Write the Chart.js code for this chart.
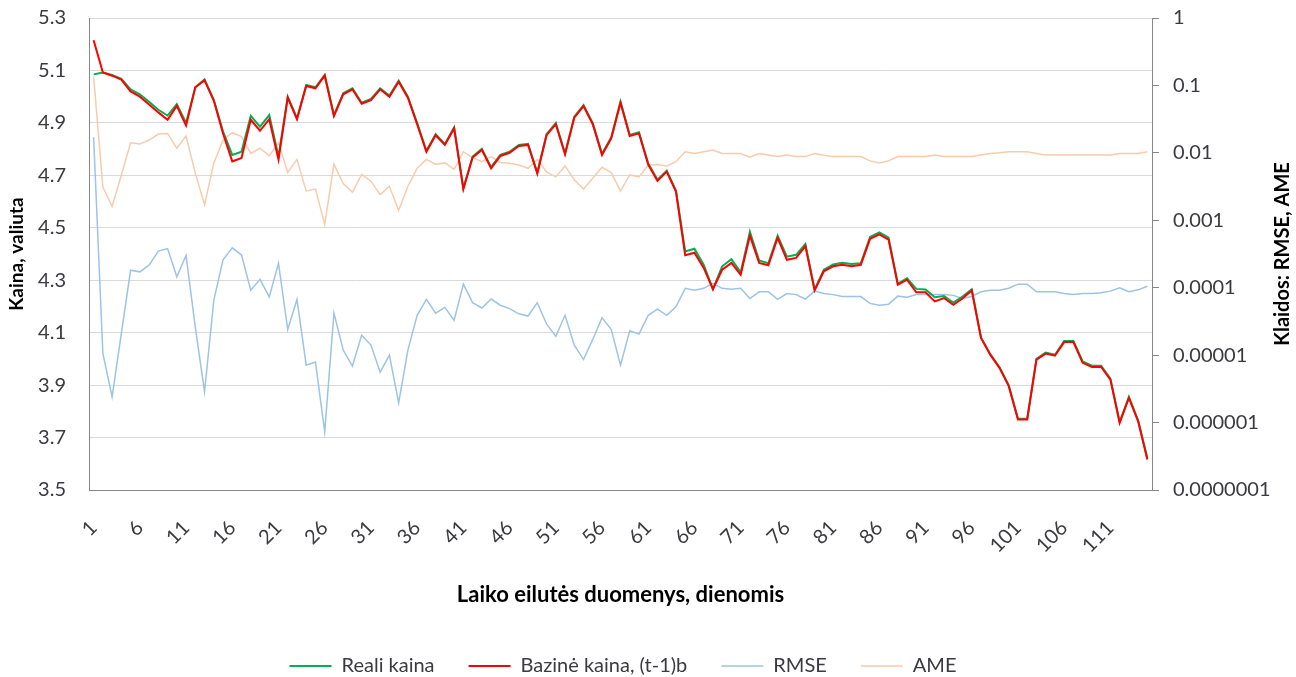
<!DOCTYPE html>
<html>
<head>
<meta charset="utf-8">
<script src="https://cdn.jsdelivr.net/npm/chart.js@4/dist/chart.umd.min.js"></script>
<style>
  html, body { margin: 0; padding: 0; background: #ffffff; }
  #wrap { width: 1296px; height: 677px; }
</style>
</head>
<body>
<div id="wrap"><canvas id="c" width="1296" height="677"></canvas></div>
<script>
// Day numbers along the time axis
const days = Array.from({ length: 115 }, (_, i) => String(i + 1));

// Observed price
const realPrice = [
  5.085, 5.092, 5.083, 5.068, 5.028, 5.009, 4.981, 4.950, 4.928, 4.972,
  4.900, 5.036, 5.066, 4.988, 4.867, 4.778, 4.790, 4.927, 4.886, 4.930,
  4.772, 5.000, 4.918, 5.045, 5.036, 5.083, 4.930, 5.013, 5.032, 4.977,
  4.991, 5.032, 5.004, 5.061, 5.000, 4.899, 4.794, 4.857, 4.820, 4.883,
  4.651, 4.772, 4.801, 4.731, 4.778, 4.790, 4.816, 4.820, 4.711, 4.857,
  4.899, 4.784, 4.924, 4.968, 4.899, 4.782, 4.845, 4.981, 4.854, 4.864,
  4.745, 4.683, 4.718, 4.642, 4.410, 4.420, 4.359, 4.266, 4.353, 4.380,
  4.330, 4.485, 4.375, 4.365, 4.470, 4.390, 4.397, 4.438, 4.265, 4.340,
  4.360, 4.367, 4.362, 4.365, 4.465, 4.482, 4.462, 4.287, 4.307, 4.267,
  4.265, 4.235, 4.240, 4.215, 4.238, 4.265, 4.082, 4.018, 3.968, 3.900,
  3.772, 3.772, 4.000, 4.024, 4.016, 4.068, 4.068, 3.990, 3.974, 3.974,
  3.925, 3.760, 3.855, 3.766, 3.620
];

// Baseline price, (t-1)b
const basePrice = [
  5.215, 5.092, 5.080, 5.065, 5.020, 5.000, 4.970, 4.940, 4.912, 4.965,
  4.890, 5.036, 5.062, 4.985, 4.860, 4.753, 4.766, 4.912, 4.870, 4.914,
  4.760, 4.996, 4.914, 5.041, 5.032, 5.080, 4.926, 5.009, 5.028, 4.973,
  4.987, 5.028, 5.000, 5.057, 4.996, 4.895, 4.790, 4.853, 4.816, 4.879,
  4.647, 4.768, 4.797, 4.727, 4.774, 4.786, 4.812, 4.816, 4.707, 4.853,
  4.895, 4.780, 4.920, 4.964, 4.895, 4.778, 4.841, 4.977, 4.850, 4.860,
  4.741, 4.679, 4.714, 4.638, 4.395, 4.405, 4.347, 4.266, 4.340, 4.366,
  4.321, 4.470, 4.366, 4.357, 4.462, 4.378, 4.385, 4.430, 4.261, 4.334,
  4.353, 4.359, 4.353, 4.359, 4.458, 4.475, 4.455, 4.283, 4.302, 4.254,
  4.254, 4.219, 4.232, 4.206, 4.230, 4.261, 4.080, 4.016, 3.966, 3.896,
  3.769, 3.769, 3.997, 4.020, 4.012, 4.064, 4.064, 3.985, 3.969, 3.969,
  3.921, 3.756, 3.851, 3.762, 3.616
];

// Root mean squared error
const rmse = [
  1.7e-2, 1.06e-5, 2.4e-6, 2.1e-5, 1.82e-4, 1.72e-4, 2.16e-4, 3.5e-4, 3.8e-4, 1.45e-4,
  3.0e-4, 2.6e-5, 2.86e-6, 6.5e-5, 2.6e-4, 3.9e-4, 3.05e-4, 9.2e-5, 1.33e-4, 7.3e-5,
  2.3e-4, 2.4e-5, 6.7e-5, 7.1e-6, 7.9e-6, 7.3e-7, 4.2e-5, 1.19e-5, 6.9e-6, 1.98e-5,
  1.41e-5, 5.6e-6, 1.0e-5, 1.96e-6, 1.19e-5, 3.9e-5, 6.7e-5, 4.2e-5, 5.1e-5, 3.3e-5,
  1.13e-4, 6.0e-5, 5.0e-5, 6.8e-5, 5.5e-5, 4.9e-5, 4.1e-5, 3.8e-5, 6.0e-5, 2.9e-5,
  1.9e-5, 3.9e-5, 1.41e-5, 8.6e-6, 1.71e-5, 3.6e-5, 2.4e-5, 7.1e-6, 2.3e-5, 2.05e-5,
  3.9e-5, 4.8e-5, 3.9e-5, 5.2e-5, 9.8e-5, 9.2e-5, 9.8e-5, 1.16e-4, 9.8e-5, 9.5e-5,
  9.8e-5, 6.9e-5, 8.7e-5, 8.7e-5, 6.7e-5, 8.2e-5, 7.9e-5, 6.8e-5, 8.9e-5, 8.2e-5,
  7.9e-5, 7.4e-5, 7.4e-5, 7.4e-5, 5.85e-5, 5.5e-5, 5.7e-5, 7.5e-5, 7.2e-5, 7.9e-5,
  7.9e-5, 7.9e-5, 7.9e-5, 7.7e-5, 6.9e-5, 7.4e-5, 8.7e-5, 9.2e-5, 9.2e-5, 9.8e-5,
  1.13e-4, 1.13e-4, 8.7e-5, 8.7e-5, 8.7e-5, 8.2e-5, 7.9e-5, 8.2e-5, 8.2e-5, 8.4e-5,
  8.9e-5, 1.0e-4, 8.7e-5, 9.3e-5, 1.05e-4
];

// Absolute mean error
const ame = [
  0.135, 0.0031, 0.0016, 0.0047, 0.0141, 0.0135, 0.0155, 0.0190, 0.0194, 0.0117,
  0.0178, 0.0050, 0.0017, 0.0070, 0.0155, 0.0199, 0.0174, 0.0098, 0.0117, 0.0090,
  0.0141, 0.0051, 0.0080, 0.0027, 0.0029, 0.00087, 0.0068, 0.0035, 0.0026, 0.0048,
  0.0038, 0.0024, 0.0032, 0.0014, 0.0032, 0.0059, 0.0080, 0.0068, 0.0071, 0.0057,
  0.0104, 0.0085, 0.0074, 0.0088, 0.0072, 0.0070, 0.0066, 0.0059, 0.0080, 0.0052,
  0.0044, 0.0064, 0.0040, 0.0029, 0.0042, 0.0061, 0.0051, 0.0027, 0.0047, 0.0044,
  0.0066, 0.0067, 0.0064, 0.0074, 0.0104, 0.0098, 0.0104, 0.0110, 0.0098, 0.0098,
  0.0098, 0.0086, 0.0098, 0.0093, 0.0088, 0.0093, 0.0088, 0.0088, 0.0098, 0.0092,
  0.0088, 0.0088, 0.0088, 0.0088, 0.0076, 0.0071, 0.0076, 0.0088, 0.0088, 0.0088,
  0.0088, 0.0093, 0.0088, 0.0088, 0.0088, 0.0088, 0.0093, 0.0098, 0.0100, 0.0104,
  0.0104, 0.0104, 0.0098, 0.0093, 0.0093, 0.0093, 0.0093, 0.0093, 0.0093, 0.0093,
  0.0093, 0.0098, 0.0098, 0.0098, 0.0104
];

// Error-axis tick values and their printed labels
const errorTicks = [1, 0.1, 0.01, 0.001, 0.0001, 0.00001, 0.000001, 0.0000001];
const errorTickLabels = ['1', '0.1', '0.01', '0.001', '0.0001', '0.00001', '0.000001', '0.0000001'];

const FONT = 'Lato, "Open Sans", sans-serif';
const AXIS_GREY = '#868686';
const TEXT_GREY = '#3a3a40';

// Right-hand axis title, read bottom-to-top like the left one
const errorAxisTitle = {
  id: 'errorAxisTitle',
  afterDraw(chart) {
    const { ctx, chartArea } = chart;
    ctx.save();
    ctx.translate(chart.width - 13, (chartArea.top + chartArea.bottom) / 2);
    ctx.rotate(-Math.PI / 2);
    ctx.font = 'bold 20px ' + FONT;
    ctx.fillStyle = '#000000';
    ctx.textAlign = 'center';
    ctx.textBaseline = 'middle';
    ctx.fillText('Klaidos: RMSE, AME', 0, 0);
    ctx.restore();
  }
};

// Draw the legend row a little left of the canvas centre
const LEGEND_SHIFT = -25;
const legendShift = {
  id: 'legendShift',
  beforeDraw(chart) {
    if (chart.legend) {
      chart.legend.left += LEGEND_SHIFT;
      chart.legend.right += LEGEND_SHIFT;
    }
  },
  afterDraw(chart) {
    if (chart.legend) {
      chart.legend.left -= LEGEND_SHIFT;
      chart.legend.right -= LEGEND_SHIFT;
    }
  }
};

// Vertical axes keep their label overhang out of the plot-area inset
const noEndPadding = (s) => { s.paddingTop = 0; s.paddingBottom = 0; };

new Chart(document.getElementById('c'), {
  type: 'line',
  data: {
    labels: days,
    datasets: [
      { label: 'Reali kaina', data: realPrice, yAxisID: 'y', borderColor: '#00b050', backgroundColor: '#00b050', borderWidth: 2, order: 2 },
      { label: 'Bazinė kaina, (t-1)b', data: basePrice, yAxisID: 'y', borderColor: '#ff0000', backgroundColor: '#ff0000', borderWidth: 2, order: 1 },
      { label: 'RMSE', data: rmse, yAxisID: 'y2', borderColor: '#9dc3e6', backgroundColor: '#9dc3e6', borderWidth: 1.5, order: 3 },
      { label: 'AME', data: ame, yAxisID: 'y2', borderColor: '#f8cbad', backgroundColor: '#f8cbad', borderWidth: 1.5, order: 4 }
    ]
  },
  options: {
    responsive: false,
    animation: false,
    devicePixelRatio: 1,
    layout: { padding: { top: 18, left: 0, right: 0, bottom: 0 } },
    elements: {
      point: { radius: 0, hoverRadius: 0 },
      line: { tension: 0, fill: false }
    },
    plugins: {
      tooltip: { enabled: false },
      legend: {
        position: 'bottom',
        maxHeight: 55,
        labels: {
          font: { family: FONT, size: 20 },
          color: TEXT_GREY,
          boxWidth: 42,
          boxHeight: 0,
          padding: 34,
          sort: (a, b) => a.datasetIndex - b.datasetIndex
        }
      }
    },
    scales: {
      x: {
        type: 'category',
        offset: true,
        afterFit: (s) => { s.height = 132; },
        grid: { display: true, drawOnChartArea: false, drawTicks: false },
        border: { display: true, color: AXIS_GREY, width: 1 },
        ticks: {
          autoSkip: false,
          maxRotation: 45,
          minRotation: 45,
          padding: 26,
          color: TEXT_GREY,
          font: { family: FONT, size: 20 },
          callback: function (value, index) { return index % 5 === 0 ? days[index] : ''; }
        },
        title: {
          display: true,
          text: 'Laiko eilutės duomenys, dienomis',
          color: '#000000',
          font: { family: FONT, size: 22, weight: 'bold' },
          padding: { top: 0, bottom: 14 }
        }
      },
      y: {
        type: 'linear',
        position: 'left',
        min: 3.5,
        max: 5.3,
        afterFit: (s) => { s.width = 89; noEndPadding(s); },
        grid: { color: '#d9d9d9', lineWidth: 1, drawTicks: false },
        border: { display: true, color: AXIS_GREY, width: 1 },
        ticks: {
          stepSize: 0.2,
          padding: 23,
          color: TEXT_GREY,
          font: { family: FONT, size: 20 },
          callback: (v) => v.toFixed(1)
        },
        title: {
          display: true,
          text: 'Kaina, valiuta',
          color: '#000000',
          font: { family: FONT, size: 19, weight: 'bold' },
          padding: { top: 5, bottom: 0 }
        }
      },
      y2: {
        type: 'logarithmic',
        position: 'right',
        min: 0.0000001,
        max: 1,
        afterFit: (s) => { s.width = 144; noEndPadding(s); },
        afterBuildTicks: (s) => { s.ticks = errorTicks.map((v) => ({ value: v })); },
        grid: { drawOnChartArea: false, drawTicks: true, tickLength: 7, color: AXIS_GREY },
        border: { display: true, color: AXIS_GREY, width: 1 },
        ticks: {
          padding: 14,
          color: TEXT_GREY,
          font: { family: FONT, size: 20 },
          callback: (v) => {
            const i = errorTicks.findIndex((t) => Math.abs(Math.log10(t) - Math.log10(v)) < 1e-6);
            return i >= 0 ? errorTickLabels[i] : '';
          }
        }
      }
    }
  },
  plugins: [errorAxisTitle, legendShift]
});
</script>
</body>
</html>
